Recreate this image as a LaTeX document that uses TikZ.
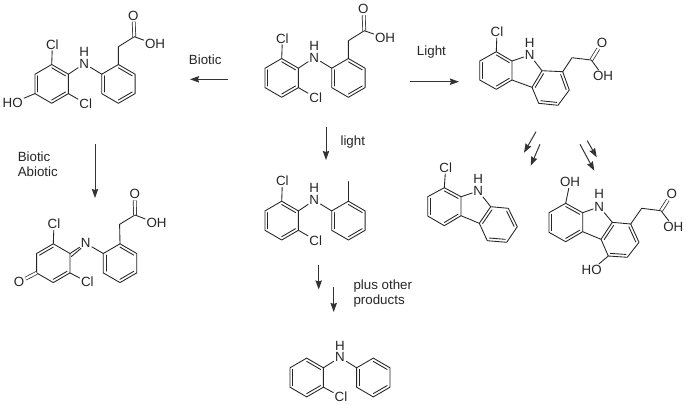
\documentclass[tikz,border=0pt]{standalone}
\usepackage{fontspec}
\setmainfont{Liberation Sans}
\usetikzlibrary{calc,arrows.meta}
\tikzset{
  bond/.style={line width=0.65pt,black!85,line cap=round,line join=round},
  dbond/.style={line width=0.55pt,black!85,double,double distance=1.7pt},
  atom/.style={font=\fontsize{10}{11}\selectfont,inner sep=0.8pt,text=black!85},
  lbl/.style={font=\fontsize{10}{11.4}\selectfont,inner sep=0pt,text=black!85,align=left},
  rxn/.style={line width=0.75pt,black!80,-{Stealth[length=6.8pt,width=4.8pt,inset=0.8pt]}}
}
% regular hexagon, point up
\newcommand{\hexat}[3]{%
  \coordinate (#1c) at (#2,#3);
  \coordinate (#11) at (#2,#3-19.4);
  \coordinate (#12) at (#2+16.7,#3-9.7);
  \coordinate (#13) at (#2+16.7,#3+9.7);
  \coordinate (#14) at (#2,#3+19.4);
  \coordinate (#15) at (#2-16.7,#3+9.7);
  \coordinate (#16) at (#2-16.7,#3-9.7);
  \draw[bond] (#11)--(#12)--(#13)--(#14)--(#15)--(#16)--cycle;
}
% inner line of a double bond
\newcommand{\inner}[3]{\draw[bond] ($(#1)!0.17!(#3)$)--($(#2)!0.17!(#3)$);}
% the usual set of three inner lines
\newcommand{\kek}[1]{\inner{#11}{#12}{#1c}\inner{#13}{#14}{#1c}\inner{#15}{#16}{#1c}}
% 2,6-dichloroaniline-N-aryl skeleton: rings, N, H, two Cl; offset dx dy
\newcommand{\skel}[3]{%
  \hexat{#1a}{51.7+#2}{83.9+#3}\kek{#1a}
  \hexat{#1b}{118.4+#2}{83.9+#3}\kek{#1b}
  \node[atom] (#1N) at (84.3+#2,63.6+#3) {N};
  \node[atom] (#1H) at (84.3+#2,51.7+#3) {H};
  \node[atom] (#1Cl) at (52.4+#2,44.5+#3) {Cl};
  \node[atom] (#1Cm) at (85.7+#2,103.6+#3) {Cl};
  \draw[bond] (#1a2)--(#1N) (#1N)--(#1b6) (#1a1)--(#1Cl) (#1a3)--(#1Cm);
}
% acetic acid side chain
\newcommand{\acid}[8]{%
  \coordinate (#1ch) at (#3,#4);
  \coordinate (#1co) at (#5,#6);
  \node[atom] (#1O) at (#7,#8) {O};
  \draw[bond] (#2)--(#1ch)--(#1co);
  \draw[dbond] (#1co)--(#1O);
}
\begin{document}
\begin{tikzpicture}[x=0.75pt,y=-0.75pt]
\useasboundingbox (0,0) rectangle (687,405);
\fill[white] (0,0) rectangle (687,405);

% --- hydroxylated molecule, top left
\skel{m}{0}{0}
\node[atom] (mHO) at (12.7,102.9) {HO};
\draw[bond] (ma5)--(mHO);
\acid{mx}{mb1}{118.4}{46.7}{134.3}{36.7}{133.4}{15.7}
\node[atom] (mOH) at (155,44.2) {OH};
\draw[bond] (mxco)--(mOH);

% --- diclofenac, top centre
\skel{d}{230}{-6}
\acid{dx}{db1}{348.4}{40.7}{364.3}{30.7}{363.4}{9.2}
\node[atom] (dOH) at (385,38) {OH};
\draw[bond] (dxco)--(dOH);

% --- middle product with methyl
\skel{t}{230}{136.7}
\coordinate (tme) at (348.4,181.5);
\draw[bond] (tb1)--(tme);

% --- quinone imine, lower left
\hexat{qa}{53.3}{263.2}
\inner{qa6}{qa1}{qac}\inner{qa3}{qa4}{qac}
\hexat{qb}{120}{263.2}\kek{qb}
\node[atom] (qN) at (85.7,243.3) {N};
\node[atom] (qCl) at (54,224) {Cl};
\node[atom] (qCm) at (87.3,282) {Cl};
\node[atom] (qO) at (19,282) {O};
\draw[bond] (qa1)--(qCl) (qa3)--(qCm) (qN)--(qb6) (qa2)--(qN);
\draw[bond] ($(qa2)+(1.4,3)$)--($(qN)+(-4.6,5)$);
\draw[dbond] (qa5)--(qO);
\acid{qx}{qb1}{119.6}{224.3}{135}{215}{134.7}{194.3}
\node[atom] (qOH) at (156.5,223.3) {OH};
\draw[bond] (qxco)--(qOH);

% --- carbazole acetic acid, top right
\coordinate (c1) at (496.3,51.7); \coordinate (c2) at (479.7,61);
\coordinate (c3) at (479.7,80); \coordinate (c4) at (496.3,89.3);
\coordinate (c5) at (512,80); \coordinate (c6) at (512,61);
\coordinate (cac) at (496,70.5);
\coordinate (c7) at (542,70.7); \coordinate (c8) at (562.7,71.7);
\coordinate (c9) at (569.3,90); \coordinate (c10) at (558,105.3);
\coordinate (c11) at (538.7,103.3); \coordinate (c12) at (532,87.3);
\coordinate (cbc) at (550.8,88.2);
\node[atom] (cN) at (529.7,55) {N};
\node[atom] (cH) at (529.7,43.3) {H};
\node[atom] (cCl) at (497,31.7) {Cl};
\draw[bond] (c1)--(c2)--(c3)--(c4)--(c5)--(c6)--cycle;
\draw[bond] (c7)--(c8)--(c9)--(c10)--(c11)--(c12)--cycle;
\draw[bond] (c6)--(cN) (cN)--(c7) (c5)--(c12) (c1)--(cCl);
\inner{c2}{c3}{cac}\inner{c1}{c6}{cac}\inner{c4}{c5}{cac}
\inner{c12}{c7}{cbc}\inner{c8}{c9}{cbc}\inner{c10}{c11}{cbc}
\acid{cx}{c8}{572}{57.7}{591.3}{60}{602}{42.7}
\node[atom] (cOH) at (603,76) {OH};
\draw[bond] (cxco)--(cOH);

% --- chlorocarbazole
\coordinate (e1) at (444.3,187.7); \coordinate (e2) at (427.7,196.7);
\coordinate (e3) at (427.7,216); \coordinate (e4) at (444.3,225.7);
\coordinate (e5) at (461,215.7); \coordinate (e6) at (461,196.7);
\coordinate (eac) at (444.3,206.7);
\coordinate (e7) at (490.7,206.7); \coordinate (e8) at (508.3,208.3);
\coordinate (e9) at (517.3,226.7); \coordinate (e10) at (506.7,242.3);
\coordinate (e11) at (487.3,240.7); \coordinate (e12) at (479.3,223.3);
\coordinate (ebc) at (498.5,224.8);
\node[atom] (eN) at (478.3,191) {N};
\node[atom] (eH) at (478.3,179) {H};
\node[atom] (eCl) at (445.7,167.7) {Cl};
\draw[bond] (e1)--(e2)--(e3)--(e4)--(e5)--(e6)--cycle;
\draw[bond] (e7)--(e8)--(e9)--(e10)--(e11)--(e12)--cycle;
\draw[bond] (e6)--(eN) (eN)--(e7) (e5)--(e12) (e1)--(eCl);
\inner{e2}{e3}{eac}\inner{e1}{e6}{eac}\inner{e4}{e5}{eac}
\inner{e12}{e7}{ebc}\inner{e8}{e9}{ebc}\inner{e10}{e11}{ebc}

% --- dihydroxycarbazole acetic acid
\coordinate (f1) at (565.7,203.3); \coordinate (f2) at (549,212.7);
\coordinate (f3) at (549,232.3); \coordinate (f4) at (565.7,241.7);
\coordinate (f5) at (582.7,231.7); \coordinate (f6) at (582.7,212.7);
\coordinate (fac) at (565.8,222.5);
\coordinate (f7) at (612.3,222.3); \coordinate (f8) at (630.7,224);
\coordinate (f9) at (639,242.3); \coordinate (f10) at (627.3,257.3);
\coordinate (f11) at (608.3,256); \coordinate (f12) at (601,239.3);
\coordinate (fbc) at (620,240.5);
\node[atom] (fN) at (599.3,206.7) {N};
\node[atom] (fH) at (599.3,194.3) {H};
\node[atom] (fOH1) at (570,182.3) {OH};
\node[atom] (fHO) at (591.7,270) {HO};
\draw[bond] (f1)--(f2)--(f3)--(f4)--(f5)--(f6)--cycle;
\draw[bond] (f7)--(f8)--(f9)--(f10)--(f11)--(f12)--cycle;
\draw[bond] (f6)--(fN) (fN)--(f7) (f5)--(f12) (f1)--(fOH1) (f11)--(fHO);
\inner{f2}{f3}{fac}\inner{f1}{f6}{fac}\inner{f4}{f5}{fac}
\inner{f12}{f7}{fbc}\inner{f8}{f9}{fbc}\inner{f10}{f11}{fbc}
\acid{fx}{f8}{641.7}{208.3}{661}{210.7}{671.7}{194}
\node[atom] (fOH) at (673.3,226.7) {OH};
\draw[bond] (fxco)--(fOH);

% --- chloro diphenylamine, bottom
\hexat{ba}{306.7}{377.5}\kek{ba}
\hexat{bb}{373.3}{377.5}\kek{bb}
\node[atom] (bN) at (340,357.3) {N};
\node[atom] (bH) at (340,346) {H};
\node[atom] (bCl) at (341,396.7) {Cl};
\draw[bond] (ba2)--(bN) (bN)--(bb6) (ba3)--(bCl);

% --- reaction arrows
\coordinate (r1a) at (228,79.3); \coordinate (r1b) at (190,79.3);
\coordinate (r2a) at (95,144); \coordinate (r2b) at (95,198);
\coordinate (r3a) at (410,81.7); \coordinate (r3b) at (459,81.7);
\coordinate (r4a) at (326,127); \coordinate (r4b) at (326,160);
\coordinate (r5a) at (318.7,265); \coordinate (r5b) at (318.7,289.5);
\coordinate (r6a) at (333.7,286.7); \coordinate (r6b) at (333.7,312);
\coordinate (r7a) at (536,131.7); \coordinate (r7b) at (524,152.7);
\coordinate (r8a) at (540,144.3); \coordinate (r8b) at (530.7,165.7);
\coordinate (r9a) at (587.3,140.7); \coordinate (r9b) at (596.7,157.3);
\coordinate (r10a) at (580,144.3); \coordinate (r10b) at (594.3,170.7);
\foreach \k in {1,...,10} {\draw[rxn] (r\k a)--(r\k b);}

% --- labels
\node[lbl,anchor=west] (l1) at (188.7,60) {Biotic};
\node[lbl,anchor=west] (l2) at (17.5,164.5) {Biotic\\Abiotic};
\node[lbl,anchor=west] (l3) at (416.7,52.5) {Light};
\node[lbl,anchor=west] (l4) at (340.3,142) {light};
\node[lbl,anchor=west] (l5) at (353.3,293.5) {plus other\\products};
\end{tikzpicture}
\end{document}
